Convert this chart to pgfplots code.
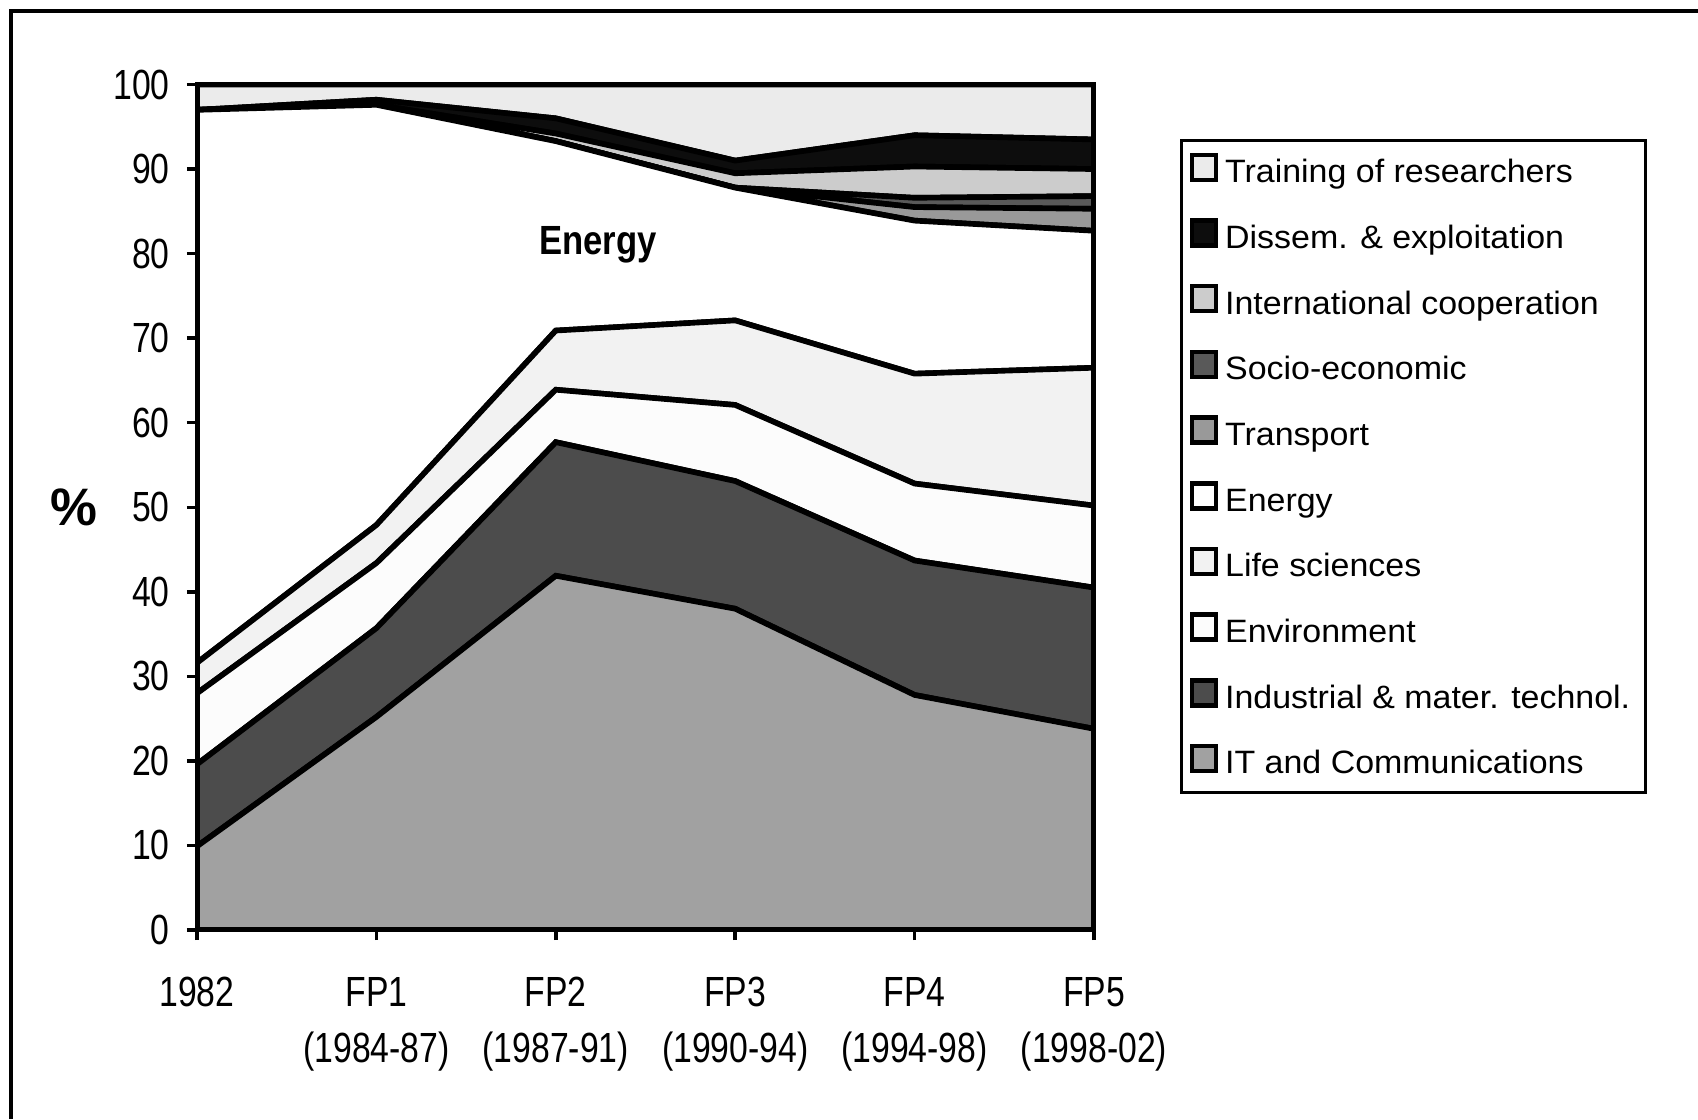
\documentclass[border=0pt]{standalone}
\usepackage{pgfplots}
\pgfplotsset{compat=1.18}
\usepackage{pgfplotstable}
\usepackage{fontspec}
\setmainfont{Liberation Sans}
\newfontfamily\tickfont[FakeStretch=0.8]{Liberation Sans}
\newfontfamily\legfont[FakeStretch=1.05]{Liberation Sans}
\newfontfamily\labfont[FakeStretch=0.85]{Liberation Sans}

\definecolor{itc}{gray}{0.63}
\definecolor{ind}{gray}{0.30}
\definecolor{env}{gray}{0.99}
\definecolor{life}{gray}{0.95}
\definecolor{ene}{gray}{1}
\definecolor{tra}{gray}{0.60}
\definecolor{soc}{gray}{0.35}
\definecolor{intl}{gray}{0.80}
\definecolor{dis}{gray}{0.05}
\definecolor{trn}{gray}{0.92}

% shares per framework programme, % of total
\pgfplotstableread{
x  IT    Ind   Env  Life  Energy Transp Socio Intl Dissem Train
0  9.9   9.7   8.4  3.6   65.4   0      0     0    0      3.0
1  25.2  10.5  7.7  4.5   49.7   0      0     0    0.6    1.8
2  41.9  15.8  6.2  7.0   22.4   0      0     0.9  1.8    4.0
3  38.0  15.1  9.0  10.0  15.7   0      0     1.7  1.5    9.0
4  27.8  15.9  9.1  13.0  18.1   1.6    1.1   3.7  3.7    6.0
5  23.8  16.7  9.7  16.3  16.2   2.6    1.5   3.2  3.5    6.5
}\shares

\begin{document}
\begin{tikzpicture}
\path[use as bounding box] (-1.97,-1.89) rectangle (15.01,9.30);
\draw[line width=0.9pt] (-1.86,-1.89) -- (-1.86,9.19) -- (15.01,9.19);
\begin{axis}[
    scale only axis,
    width=8.97cm, height=8.455cm,
    xmin=0, xmax=5, ymin=0, ymax=100,
    stack plots=y,
    axis on top,
    axis line style={line width=1.4pt},
    xtick={0,1,2,3,4,5},
    xticklabels={1982,{FP1\\(1984-87)},{FP2\\(1987-91)},{FP3\\(1990-94)},{FP4\\(1994-98)},{FP5\\(1998-02)}},
    ytick={0,10,...,100},
    tick align=outside,
    major tick length=0.1cm,
    tick style={line width=1pt, black},
    xtick pos=bottom, ytick pos=left,
    /pgf/number format/assume math mode=true,
    xticklabel style={align=center, font=\tickfont\fontsize{12}{15.9}\selectfont, yshift=-0.25cm},
    yticklabel style={font=\tickfont\fontsize{12}{14}\selectfont, xshift=-0.05cm},
    ylabel={\%},
    y label style={at={(axis description cs:-0.137,0.5)}, rotate=-90, anchor=center,
        font=\bfseries\fontsize{15}{18}\selectfont},
    every axis plot/.append style={draw=black, line width=1.6pt},
    legend image code/.code={\draw[#1, line width=1.3pt] (0cm,-0.06cm) rectangle (0.24cm,0.19cm);},
    reverse legend,
    legend cell align=left,
    legend style={at={(rel axis cs:1.0959,0.9355)}, anchor=north west,
        draw=black, line width=0.85pt, inner xsep=0.08cm, inner ysep=0.12cm,
        font=\legfont\fontsize{9.2}{11}\selectfont,
        nodes={inner ysep=0pt, text height=0.25cm, text depth=0.07cm},
        row sep=0.284cm,
        /tikz/every odd column/.append style={column sep=0.0cm}},
    after end axis/.code={
        \node[font=\labfont\bfseries\fontsize{11.6}{14}\selectfont] at (axis cs:2.235,81.0) {Energy};
    },
]
\addplot[fill=itc] table[x=x, y=IT] {\shares} \closedcycle;
\addlegendentry{IT and Communications}
\addplot[fill=ind] table[x=x, y=Ind] {\shares} \closedcycle;
\addlegendentry{Industrial \& mater. technol.}
\addplot[fill=env] table[x=x, y=Env] {\shares} \closedcycle;
\addlegendentry{Environment}
\addplot[fill=life] table[x=x, y=Life] {\shares} \closedcycle;
\addlegendentry{Life sciences}
\addplot[fill=ene] table[x=x, y=Energy] {\shares} \closedcycle;
\addlegendentry{Energy}
\addplot[fill=tra] table[x=x, y=Transp] {\shares} \closedcycle;
\addlegendentry{Transport}
\addplot[fill=soc] table[x=x, y=Socio] {\shares} \closedcycle;
\addlegendentry{Socio-economic}
\addplot[fill=intl] table[x=x, y=Intl] {\shares} \closedcycle;
\addlegendentry{International cooperation}
\addplot[fill=dis] table[x=x, y=Dissem] {\shares} \closedcycle;
\addlegendentry{Dissem. \& exploitation}
\addplot[fill=trn] table[x=x, y=Train] {\shares} \closedcycle;
\addlegendentry{Training of researchers}
\end{axis}
\end{tikzpicture}
\end{document}
